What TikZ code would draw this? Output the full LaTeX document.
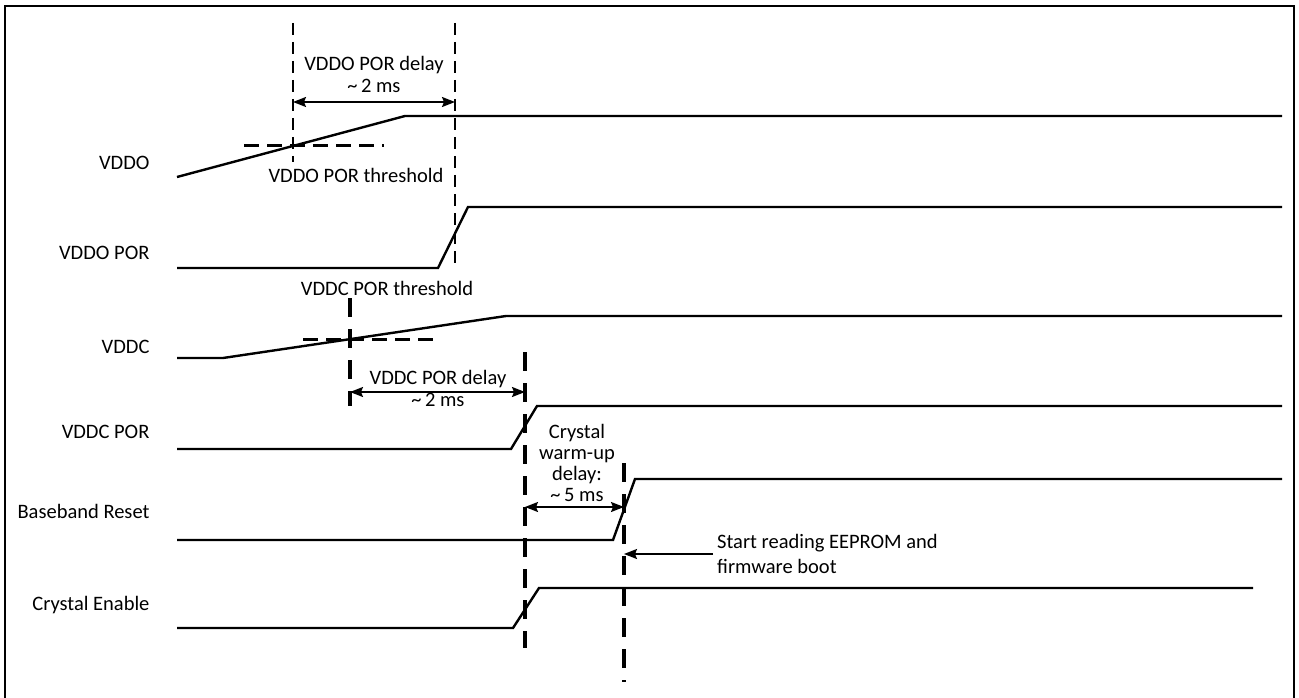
\documentclass[tikz,border=0pt]{standalone}
\usepackage{fontspec}
\setmainfont{Carlito}
\usetikzlibrary{arrows.meta}

\begin{document}
\begin{tikzpicture}[x=1pt, y=-1pt, line width=2.4pt,
    every node/.style={font=\fontsize{20.5}{22}\selectfont, inner sep=0pt},
    mark line/.style={line width=2.4pt, dash pattern=on 12pt off 7pt},
    mark line thick/.style={line width=3.2pt, dash pattern=on 19pt off 12pt}]
\useasboundingbox (0,0) rectangle (1299,698);
\draw [line width=2.8pt] (5,705) -- (5,6) -- (1294,6) -- (1294,705);

% signal names
\begin{scope}[every node/.style={anchor=east, font=\fontsize{20.5}{22}\selectfont}]
    \node (vddo) at (154,163) {VDDO};
    \node (vddopor) at (154,253) {VDDO POR};
    \node (vddc) at (154,347) {VDDC};
    \node (vddcpor) at (154,432) {VDDC POR};
    \node (bbreset) at (154,511) {Baseband Reset};
    \node (xtalen) at (154,605) {Crystal Enable};
\end{scope}

% waveforms
\draw (177,177) -- (405,116) -- (1282,116);
\draw (177,268) -- (438,268) -- (468,207) -- (1282,207);
\draw (177,358) -- (223,358) -- (506,316) -- (1282,316);
\draw (177,449) -- (511,449) -- (537,406) -- (1282,406);
\draw (177,540) -- (613,540) -- (635,479) -- (1282,479);
\draw (177,628) -- (513,628) -- (539,588) -- (1253,588);

% thresholds and markers
\coordinate (m1a) at (293,23);  \coordinate (m1b) at (293,162);
\coordinate (m2a) at (455,23);  \coordinate (m2b) at (455,270);
\coordinate (m3a) at (350,298); \coordinate (m3b) at (350,406);
\coordinate (m4a) at (525,352); \coordinate (m4b) at (525,648);
\coordinate (m5a) at (624,463); \coordinate (m5b) at (624,682);
\draw [mark line, line width=3pt, dash pattern=on 15pt off 8pt] (244,146) -- (384,146);
\draw [mark line] (m1a) -- (m1b);
\draw [mark line] (m2a) -- (m2b);
\draw [mark line, line width=3pt, dash pattern=on 15pt off 8pt] (303,339) -- (440,339);
\draw [mark line thick] (m3a) -- (m3b);
\draw [mark line thick] (m4a) -- (m4b);
\draw [mark line thick] (m5a) -- (m5b);

% delays
\coordinate (d1l) at (293,102); \coordinate (d1r) at (455,102);
\coordinate (d2l) at (350,392); \coordinate (d2r) at (525,392);
\coordinate (d3l) at (525,507); \coordinate (d3r) at (624,507);
\coordinate (boot) at (713,554); \coordinate (bootend) at (624,554);
\begin{scope}[>={Stealth[length=13pt, width=10pt, inset=2pt]}, line width=1.7pt]
    \path [<->] (d1l) edge (d1r);
    \path [<->] (d2l) edge (d2r);
    \path [<->] (d3l) edge (d3r);
    \path [->] (boot) edge (bootend);
\end{scope}

\node (vddodelay) at (374,74) [align=center] {VDDO POR delay\\\textasciitilde\,2 ms};
\node (vddothr) at (356,175) {VDDO POR threshold};
\node (vddcthr) at (387,288) {VDDC POR threshold};
\node (vddcdelay) at (438,388) [align=center] {VDDC POR delay\\\textasciitilde\,2 ms};
\node (xtaldelay) at (577,463) [align=center, font=\fontsize{20.5}{21}\selectfont] {Crystal\\warm-up\\delay:\\\textasciitilde\,5 ms};
\node (bootlabel) at (716,554) [anchor=west, align=left, font=\fontsize{20.5}{25}\selectfont] {Start reading EEPROM and\\firmware boot};
\end{tikzpicture}
\end{document}
